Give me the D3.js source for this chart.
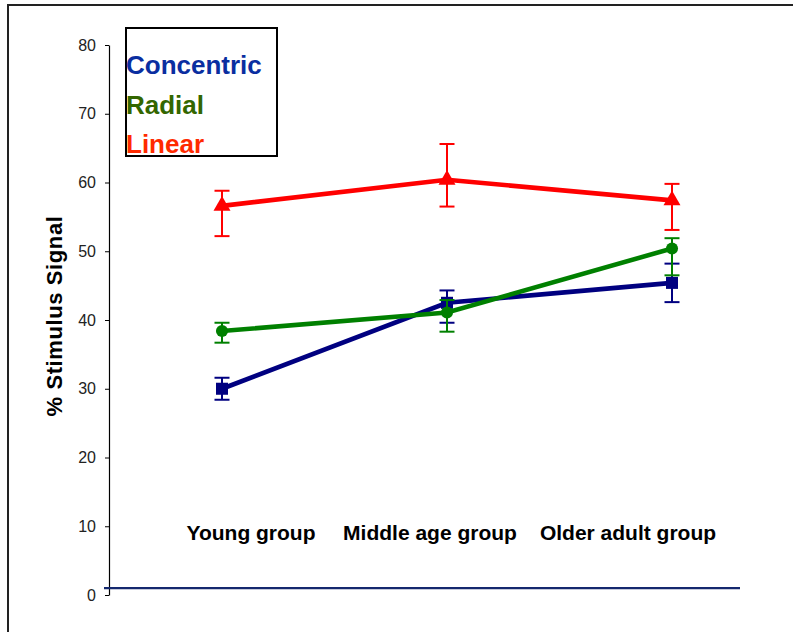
<!DOCTYPE html>
<html>
<head>
<meta charset="utf-8">
<script src="https://cdn.jsdelivr.net/npm/d3@7"></script>
<style>
  body { margin: 0; background: #fff; }
  svg { font-family: "Liberation Sans", Arial, sans-serif; }
</style>
</head>
<body>
<svg id="chart" width="793" height="632"></svg>
<script>
// groups on the x axis
var groups = ["Young group", "Middle age group", "Older adult group"];
var yTicks = [0, 10, 20, 30, 40, 50, 60, 70, 80];

// mean values, with the ends of the error bars
var concentric = [30.0, 42.5, 45.4];
var concentricLow = [28.4, 39.6, 42.6];
var concentricHigh = [31.6, 44.3, 48.2];

var radial = [38.4, 41.1, 50.4];
var radialLow = [36.7, 38.3, 46.5];
var radialHigh = [39.6, 42.9, 51.9];

var linear = [56.6, 60.4, 57.4];
var linearLow = [52.2, 56.5, 53.1];
var linearHigh = [58.8, 65.6, 59.8];

var seriesNames = ["Concentric", "Radial", "Linear"];

var svg = d3.select("#chart");

var xScale = d3.scalePoint().domain(groups).range([222, 672]);
var yScale = d3.scaleLinear().domain([0, 80]).range([595, 45]);

// outer frame (runs off the right / bottom of the picture)
svg.append("rect")
  .attr("x", 8).attr("y", 5)
  .attr("width", 800).attr("height", 640)
  .attr("fill", "none")
  .attr("stroke", "#222")
  .attr("stroke-width", 2);

// y axis
var yAxis = svg.append("g")
  .attr("transform", "translate(109,0)")
  .call(d3.axisLeft(yScale).tickValues(yTicks).tickSize(4).tickPadding(9).tickSizeOuter(0));
yAxis.select(".domain").attr("stroke", "#000").attr("stroke-width", 1.2);
yAxis.selectAll(".tick line").attr("stroke", "#000");
yAxis.selectAll(".tick text")
  .attr("font-size", "16px")
  .attr("fill", "#222")
  .attr("font-family", "Liberation Sans, Arial, sans-serif");

// the navy base line just above zero
svg.append("line")
  .attr("x1", 104).attr("x2", 740)
  .attr("y1", yScale(1)).attr("y2", yScale(1))
  .attr("stroke", "#14286e")
  .attr("stroke-width", 2.2);

// y label
svg.append("text")
  .attr("transform", "translate(62,316) rotate(-90)")
  .attr("text-anchor", "middle")
  .attr("font-size", "22px")
  .attr("font-weight", "bold")
  .attr("letter-spacing", "0.6px")
  .attr("fill", "#000")
  .text("% Stimulus Signal");

// group labels (they sit a little off the data points in the original)
var labelShift = [29, -17, -44];
svg.selectAll(".group-label")
  .data(groups)
  .enter()
  .append("text")
  .attr("class", "group-label")
  .attr("x", (d, i) => xScale(d) + labelShift[i])
  .attr("y", 540)
  .attr("text-anchor", "middle")
  .attr("font-size", "21px")
  .attr("font-weight", "bold")
  .attr("fill", "#000")
  .text((d) => d);

// build the series from the arrays
var series = [
  { name: "Concentric", color: "#000080", marker: "square", v: concentric, lo: concentricLow, hi: concentricHigh },
  { name: "Radial", color: "#008000", marker: "circle", v: radial, lo: radialLow, hi: radialHigh },
  { name: "Linear", color: "#ff0000", marker: "triangle", v: linear, lo: linearLow, hi: linearHigh }
];

var line = d3.line()
  .x((d, i) => xScale(groups[i]))
  .y((d) => yScale(d));

series.forEach(function (s) {
  var g = svg.append("g").attr("class", "series");

  g.append("path")
    .attr("d", line(s.v))
    .attr("fill", "none")
    .attr("stroke", s.color)
    .attr("stroke-width", 4.6);

  // error bars
  var eb = g.selectAll(".err")
    .data(s.v)
    .enter()
    .append("g")
    .attr("class", "err")
    .attr("stroke", s.color)
    .attr("stroke-width", 2);
  eb.append("line")
    .attr("x1", (d, i) => xScale(groups[i])).attr("x2", (d, i) => xScale(groups[i]))
    .attr("y1", (d, i) => yScale(s.lo[i])).attr("y2", (d, i) => yScale(s.hi[i]));
  eb.append("line")
    .attr("x1", (d, i) => xScale(groups[i]) - 7.5).attr("x2", (d, i) => xScale(groups[i]) + 7.5)
    .attr("y1", (d, i) => yScale(s.lo[i])).attr("y2", (d, i) => yScale(s.lo[i]));
  eb.append("line")
    .attr("x1", (d, i) => xScale(groups[i]) - 7.5).attr("x2", (d, i) => xScale(groups[i]) + 7.5)
    .attr("y1", (d, i) => yScale(s.hi[i])).attr("y2", (d, i) => yScale(s.hi[i]));

  // markers
  var symType = s.marker === "square" ? d3.symbolSquare
    : s.marker === "circle" ? d3.symbolCircle : d3.symbolTriangle;
  var symSize = s.marker === "square" ? 145 : s.marker === "circle" ? 115 : 125;
  g.selectAll(".mark")
    .data(s.v)
    .enter()
    .append("path")
    .attr("class", "mark")
    .attr("d", d3.symbol().type(symType).size(symSize))
    .attr("transform", (d, i) => "translate(" + xScale(groups[i]) + "," + yScale(d) + ")")
    .attr("fill", s.color);
});

// legend box
svg.append("rect")
  .attr("x", 126).attr("y", 28)
  .attr("width", 151).attr("height", 128)
  .attr("fill", "none")
  .attr("stroke", "#000")
  .attr("stroke-width", 2);

var legendColors = ["#0a2ea0", "#336600", "#ff2a00"];
svg.selectAll(".legend-text")
  .data(seriesNames)
  .enter()
  .append("text")
  .attr("class", "legend-text")
  .attr("x", 126)
  .attr("y", (d, i) => 74 + i * 39.5)
  .attr("font-size", "26px")
  .attr("font-weight", "bold")
  .attr("fill", (d, i) => legendColors[i])
  .text((d) => d);
</script>
</body>
</html>
